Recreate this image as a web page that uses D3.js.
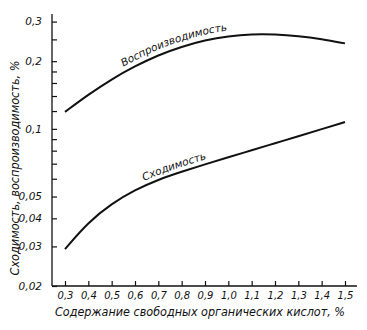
<!DOCTYPE html>
<html>
<head>
<meta charset="utf-8">
<script src="https://cdn.jsdelivr.net/npm/d3@7"></script>
<style>
  html, body { margin: 0; padding: 0; background: #fff; }
  svg text { font-family: "DejaVu Sans", "Liberation Sans", sans-serif; font-style: italic; fill: #111; }
</style>
</head>
<body>
<svg id="chart" width="367" height="330"></svg>
<script>
// ---- data ----
const xValues = [0.3, 0.4, 0.5, 0.6, 0.7, 0.8, 0.9, 1.0, 1.1, 1.2, 1.3, 1.4, 1.5];
const reproducibility = [0.119, 0.142, 0.1665, 0.190, 0.213, 0.232, 0.248, 0.2586, 0.264, 0.2635, 0.259, 0.251, 0.240];
const repeatability = [0.0292, 0.0385, 0.0465, 0.0535, 0.0595, 0.0645, 0.0695, 0.0748, 0.0803, 0.0863, 0.0927, 0.0997, 0.1073];
const xTickValues = [0.3, 0.4, 0.5, 0.6, 0.7, 0.8, 0.9, 1.0, 1.1, 1.2, 1.3, 1.4, 1.5];
const xTickLabels = ["0,3", "0,4", "0,5", "0,6", "0,7", "0,8", "0,9", "1,0", "1,1", "1,2", "1,3", "1,4", "1,5"];
const yMajorTicks = [0.02, 0.03, 0.04, 0.05, 0.1, 0.2, 0.3];
const yTickLabels = ["0,02", "0,03", "0,04", "0,05", "0,1", "0,2", "0,3"];
const yMinorTicks = [0.06, 0.07, 0.08, 0.09, 0.12, 0.14, 0.16, 0.18, 0.25];
const labelRepro = "Воспроизводимость";
const labelRepeat = "Сходимость";
const xTitle = "Содержание свободных органических кислот, %";
const yTitle = "Сходимость, воспроизводимость, %";

const svg = d3.select("#chart");

const x = d3.scaleLinear().domain([0.3, 1.5]).range([65, 345]);
const y = d3.scaleLog().domain([0.02, 0.3]).range([286, 21.6]);

// axes lines
svg.append("line").attr("x1", 52).attr("x2", 52).attr("y1", 14).attr("y2", 286)
  .attr("stroke", "#111").attr("stroke-width", 1.3);
svg.append("line").attr("x1", 52).attr("x2", 357).attr("y1", 286).attr("y2", 286)
  .attr("stroke", "#111").attr("stroke-width", 1.3);

// x ticks
const xAxis = d3.axisBottom(x).tickValues(xTickValues).tickSize(-5).tickPadding(6)
  .tickFormat((d, i) => xTickLabels[i]);
const gx = svg.append("g").attr("transform", "translate(0,286)").call(xAxis);
gx.select(".domain").remove();
gx.selectAll("line").attr("stroke", "#111").attr("stroke-width", 1.2);
gx.selectAll("text").attr("font-size", 10).attr("fill", "#111")
  .attr("font-family", "DejaVu Sans Condensed, DejaVu Sans, sans-serif").attr("font-style", "italic");

// y ticks major
const yAxis = d3.axisLeft(y).tickValues(yMajorTicks).tickSize(-5).tickPadding(10)
  .tickFormat((d, i) => yTickLabels[i]);
const gy = svg.append("g").attr("transform", "translate(52,0)").call(yAxis);
gy.select(".domain").remove();
gy.selectAll("line").attr("stroke", "#111").attr("stroke-width", 1.2);
gy.selectAll("text").attr("font-size", 10.5).attr("fill", "#111")
  .attr("font-family", "DejaVu Sans Condensed, DejaVu Sans, sans-serif").attr("font-style", "italic");

// y minor ticks
const yMinor = d3.axisLeft(y).tickValues(yMinorTicks).tickSize(-5).tickFormat("");
const gym = svg.append("g").attr("transform", "translate(52,0)").call(yMinor);
gym.select(".domain").remove();
gym.selectAll("line").attr("stroke", "#111").attr("stroke-width", 1.2);

// curves
const pts = vals => xValues.map((xv, i) => [xv, vals[i]]);
const line = d3.line().x(d => x(d[0])).y(d => y(d[1])).curve(d3.curveBasis);
const lineOff = off => d3.line().x(d => x(d[0])).y(d => y(d[1]) - off).curve(d3.curveBasis);

svg.append("path").attr("d", line(pts(reproducibility))).attr("fill", "none")
  .attr("stroke", "#111").attr("stroke-width", 2);
svg.append("path").attr("d", line(pts(repeatability))).attr("fill", "none")
  .attr("stroke", "#111").attr("stroke-width", 2);

// label paths
const defs = svg.append("defs");
defs.append("path").attr("id", "pRepro").attr("d", lineOff(6)(pts(reproducibility)));
defs.append("path").attr("id", "pRepeat").attr("d", lineOff(5)(pts(repeatability)));

svg.append("text").attr("font-size", 10.5)
  .attr("font-family", "DejaVu Sans Condensed, DejaVu Sans, sans-serif")
  .append("textPath").attr("href", "#pRepro").attr("startOffset", 70)
  .text(labelRepro);
svg.append("text").attr("font-size", 10.5)
  .attr("font-family", "DejaVu Sans Condensed, DejaVu Sans, sans-serif")
  .append("textPath").attr("href", "#pRepeat").attr("startOffset", 102)
  .text(labelRepeat);

// titles
svg.append("text").attr("x", 200).attr("y", 316).attr("text-anchor", "middle")
  .attr("font-size", 11.5).attr("textLength", 290).attr("lengthAdjust", "spacingAndGlyphs")
  .text(xTitle);
svg.append("text").attr("transform", "translate(19,168) rotate(-90)").attr("text-anchor", "middle")
  .attr("font-size", 11.5).attr("textLength", 215).attr("lengthAdjust", "spacingAndGlyphs")
  .text(yTitle);
</script>
</body>
</html>
